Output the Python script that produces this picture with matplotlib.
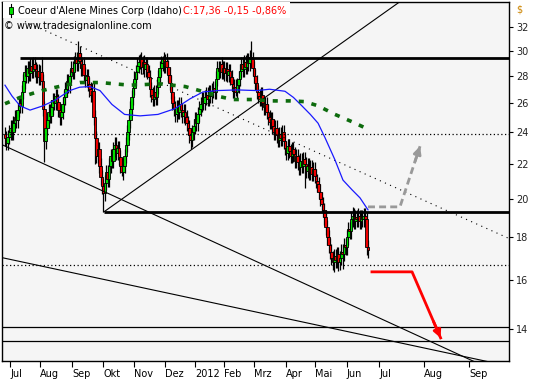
import numpy as np
import matplotlib.pyplot as plt
from matplotlib.patches import Rectangle
from matplotlib.ticker import FixedLocator, NullLocator, FixedFormatter

# daily closes, Jul 2011 - Jun 2012 (one value per bar)
closes = [
    23.6, 23.3, 23.7, 24.0, 24.3, 24.0, 24.6, 25.0, 24.8, 25.5,
    26.0, 25.8, 26.8, 27.6, 28.3, 28.0, 28.6, 28.2, 28.8, 28.4,
    28.9, 28.5, 28.0, 28.4, 27.9, 28.3, 27.6, 25.6, 23.4, 24.3,
    24.8, 25.4, 25.1, 25.7, 26.2, 26.0, 26.5, 26.1, 25.5, 25.0,
    25.4, 25.9, 26.4, 27.0, 27.6, 27.3, 28.0, 28.6, 28.3, 29.0,
    29.3, 29.0, 29.8, 29.2, 28.6, 28.9, 28.1, 27.7, 28.0, 27.4,
    27.0, 26.6, 26.9, 25.0, 23.6, 22.5, 22.9, 21.9, 21.2, 20.7,
    20.3, 20.9, 21.5, 21.1, 21.9, 22.5, 22.2, 22.9, 23.2, 22.7,
    23.0, 22.4, 21.9, 21.5, 21.9, 22.5, 23.2, 24.0, 24.8, 25.6,
    26.4, 27.1, 27.8, 28.3, 28.8, 29.1, 29.3, 28.7, 29.1, 28.5,
    28.9, 28.3, 27.9, 27.0, 26.6, 26.3, 26.8, 26.4, 27.2, 27.9,
    28.6, 29.0, 29.3, 28.8, 29.2, 28.7, 28.1, 27.5, 26.8, 26.0,
    25.6, 25.2, 25.7, 25.4, 25.9, 25.5, 25.1, 25.4, 25.0, 24.6,
    24.3, 23.8, 23.5, 24.0, 24.4, 24.9, 24.6, 25.2, 25.6, 25.9,
    26.3, 26.0, 26.4, 26.6, 26.3, 26.8, 26.5, 26.9, 27.1, 26.8,
    27.8, 28.6, 28.4, 28.9, 28.3, 28.6, 28.2, 28.5, 28.1, 28.4,
    27.9, 27.4, 26.9, 27.2, 26.8, 27.3, 27.8, 28.4, 28.9, 28.5,
    29.1, 28.7, 29.2, 29.0, 29.5, 29.3, 28.6, 28.0, 27.5, 26.8,
    26.5, 26.3, 26.6, 26.0, 25.7, 25.9, 25.4, 25.0, 24.7, 24.9,
    24.4, 24.0, 24.3, 23.8, 23.5, 23.9, 23.6, 24.0, 23.4, 23.0,
    22.7, 23.1, 22.8, 22.5, 22.9, 22.6, 22.2, 22.5, 22.1, 21.8,
    22.2, 21.9, 22.3, 22.0, 21.6, 21.9, 21.5, 21.8, 21.4, 21.7,
    21.3, 21.0, 20.8, 20.4, 20.0, 19.7, 19.4, 19.0, 18.5, 18.0,
    17.6, 17.3, 17.0, 16.8, 17.1, 16.9, 17.2, 16.8, 17.0, 17.3,
    17.2, 17.6, 17.5, 18.0, 18.4, 18.3, 18.9, 19.1, 18.8, 19.0,
    18.9, 19.1, 18.8, 19.0, 18.9, 19.1, 18.9, 17.51, 17.36,
]
first_open = 23.9
wick_pad = 0.02  # usual wick length as a share of price

# long wicks visible in the chart
spike_hi = {26: 29.5, 52: 30.8, 96: 29.7, 98: 29.6, 112: 29.6, 114: 29.7,
            153: 29.2, 175: 30.8, 247: 19.55, 252: 19.4}
spike_lo = {28: 22.1, 64: 22.0, 70: 19.3, 83: 21.3, 132: 22.9, 164: 26.5,
            213: 20.6, 234: 16.35, 237: 16.4, 240: 16.5}

# moving averages (bar index, price)
blue_x = [0, 5, 10.7, 17.8, 27, 35.5, 46, 53, 60.4, 67.5, 76, 85, 96, 108.7,
          120.8, 131.5, 140.7, 150.7, 165, 179, 188, 199, 205, 211, 217,
          222.5, 227.4, 234.5, 240.2, 246.6, 252.3, 258]
blue_y = [27.3, 26.5, 25.8, 25.5, 25.8, 26.2, 26.9, 27.15, 27.2, 26.9, 25.9,
          25.2, 25.1, 25.2, 25.6, 26.3, 26.8, 26.9, 26.95, 26.9, 27.0, 26.85,
          26.4, 25.8, 25.2, 24.6, 23.65, 22.25, 21.05, 20.5, 20.05, 19.4]
green_x = [0, 10.7, 21.3, 32, 42.6, 53.3, 67.5, 88.8, 110, 128, 140, 150.7, 162,
           175.5, 188.3, 202.5, 213, 222.5, 234.5, 246.6, 258]
green_y = [25.95, 26.4, 26.75, 27.05, 27.3, 27.5, 27.5, 27.3, 27.4, 27.2, 26.85,
           26.5, 26.25, 26.25, 26.15, 26.15, 26.1, 25.8, 25.2, 24.7, 24.2]

month_pos = [3.8, 24.7, 47.9, 69.9, 91.5, 113.6, 134.9, 155.7, 177.0, 199.4,
             220.2, 242.8, 266.0, 297.9, 329.8]
month_lbl = ['Jul', 'Aug', 'Sep', 'Okt', 'Nov', 'Dez', '2012', 'Feb', 'Mrz',
             'Apr', 'Mai', 'Jun', 'Jul', 'Aug', 'Sep']
price_ticks = [14, 16, 18, 20, 22, 24, 26, 28, 30, 32]

# levels and drawn lines
res_top, res_top_start = 29.4, 10.7
res_mid, res_mid_start = 19.3, 70.4
dot_levels = [23.9, 16.68]
thin_levels = [14.09, 13.55]
dotted_trend = [(14.2, 32.5), (357.5, 17.96)]
solid_trends = [
    [(70.4, 19.3), (292, 35.4)],
    [(-7.1, 23.4), (344.7, 12.55)],
    [(-7.1, 17.09), (351.8, 12.71)],
]
grey_path = [(258, 19.56), (280.7, 19.56), (295, 23.1)]
red_path = [(260.8, 16.37), (289.3, 16.37), (309.6, 13.66)]

W, H = 540, 380
fig = plt.figure(figsize=(W / 100, H / 100), dpi=100)
ax = fig.add_axes([2 / W, 1 - 360.5 / H, 507 / W, 358.5 / H])
ax.set_facecolor('#f5f5f5')
ax.set_yscale('log')
ax.set_xlim(-2.13, 358.2)
ax.set_ylim(12.84, 34.29)

# candles
c = np.array(closes)
o = np.r_[first_open, c[:-1]]
x = np.arange(len(c))
hi = np.maximum(o, c) * (1 + wick_pad)
lo = np.minimum(o, c) * (1 - wick_pad)
for i, v in spike_hi.items():
    hi[i] = v
for i, v in spike_lo.items():
    lo[i] = v
cols = np.where(c >= o, '#00dd00', '#ee0000')
ax.vlines(x, lo, hi, color='black', lw=0.9, zorder=2)
ax.bar(x, np.abs(c - o), bottom=np.minimum(o, c), width=1.9, color=cols,
       edgecolor='black', linewidth=0.6, zorder=3)

# horizontal levels
ax.hlines(res_top, res_top_start, 400, color='black', lw=2, zorder=4)
ax.hlines(res_mid, res_mid_start, 400, color='black', lw=2, zorder=4)
for lv in dot_levels:
    ax.axhline(lv, color='black', lw=0.9, ls=(0, (1, 2)), zorder=4)
for lv in thin_levels:
    ax.axhline(lv, color='black', lw=0.9, zorder=4)

# trend lines
(x0, y0), (x1, y1) = dotted_trend
ax.plot([x0, x1], [y0, y1], color='black', lw=0.8, ls=(0, (1, 4)), zorder=4)
for seg in solid_trends:
    ax.plot([p[0] for p in seg], [p[1] for p in seg], color='black', lw=0.8, zorder=4)

# moving averages
ax.plot(blue_x, blue_y, color='#1a1aff', lw=0.9, zorder=5)
ax.plot(green_x, green_y, color='#0d6b0d', lw=2.6, ls=(0, (1.4, 2.2)), zorder=5)


# projection arrows
def arrow_path(path, color, ls):
    xs = [p[0] for p in path]
    ys = [p[1] for p in path]
    ax.plot(xs, ys, color=color, lw=2, ls=ls, zorder=6)
    (ax0, ay0), (ax1, ay1) = path[-2], path[-1]
    t = 0.75
    bx = ax0 + (ax1 - ax0) * t
    by = ay0 * (ay1 / ay0) ** t
    ax.annotate('', xy=(ax1, ay1), xytext=(bx, by),
                arrowprops=dict(arrowstyle='-|>', color=color, lw=2,
                                mutation_scale=11, shrinkA=0, shrinkB=0),
                zorder=6)


arrow_path(grey_path, '#999999', (0, (2.5, 1.5)))
arrow_path(red_path, '#ff0000', '-')

# axes styling
for s in ax.spines.values():
    s.set_color('black')
    s.set_linewidth(1)
ax.yaxis.tick_right()
ax.yaxis.set_major_locator(FixedLocator(price_ticks))
ax.yaxis.set_major_formatter(FixedFormatter([str(t) for t in price_ticks]))
ax.yaxis.set_minor_locator(NullLocator())
ax.tick_params(axis='y', direction='out', length=3, pad=2, labelsize=7,
               labelcolor='#222222')
ax.set_xticks(month_pos)
ax.set_xticklabels(month_lbl, ha='left', fontsize=7)
ax.tick_params(axis='x', direction='out', length=4, pad=2)

fig.text(516 / W, 1 - 10 / H, '$', fontsize=7, color='#cc8400', va='center')


# header
def fx(px):
    return px / W


def fy(py):
    return 1 - py / H


fig.patches.append(Rectangle((fx(3), fy(18)), fx(290) - fx(3), fy(2) - fy(18),
                             transform=fig.transFigure, facecolor='white',
                             edgecolor='none', zorder=7))
fig.add_artist(plt.Line2D([fx(10.8), fx(10.8)], [fy(3.5), fy(17.3)],
                          transform=fig.transFigure, color='black', lw=0.8, zorder=8))
fig.patches.append(Rectangle((fx(9), fy(14.3)), fx(12.7) - fx(9), fy(6.7) - fy(14.3),
                             transform=fig.transFigure, facecolor='#00dd00',
                             edgecolor='black', lw=0.6, zorder=9))
fig.text(fx(18), fy(10.7), "Coeur d'Alene Mines Corp (Idaho)", fontsize=7,
         va='center', color='black', zorder=10)
fig.text(fx(183), fy(10.7), 'C:17,36 -0,15 -0,86%', fontsize=7, va='center',
         color='#ff0000', zorder=10)
fig.text(fx(4), fy(25.7), '\u00a9 www.tradesignalonline.com', fontsize=7,
         va='center', color='black', zorder=10)

fig.savefig('out.png', dpi=100, facecolor='white')
